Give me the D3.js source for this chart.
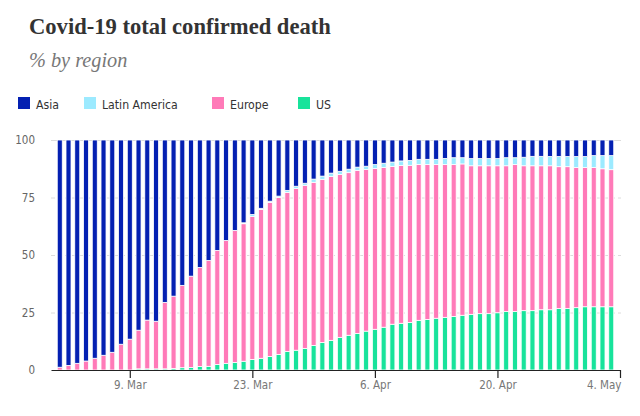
<!DOCTYPE html>
<html><head><meta charset="utf-8">
<script src="https://cdn.jsdelivr.net/npm/d3@7"></script>
<style>
html,body{margin:0;padding:0;background:#fff;}
svg{display:block;}
</style></head>
<body>
<svg id="chart" width="640" height="416"></svg>
<script>
const startDate = "2020-03-01";
const regions = ["US", "Europe", "Latin America", "Asia"];
const legendOrder = ["Asia", "Latin America", "Europe", "US"];
const colors = {"Asia": "#0420b2", "Latin America": "#9ceaff", "Europe": "#ff7ab8", "US": "#18e39b"};

const us = [0,0,0,0,0,0,0,0,0,0.5,0.5,0.5,0.5,0.6,1.0,1.1,1.5,1.6,2.4,2.9,3.3,3.8,4.6,5.1,5.9,6.8,8.1,8.6,9.4,10.7,12.0,12.9,14.2,15.1,15.9,16.9,17.7,18.6,19.9,20.3,20.7,21.6,22.0,22.5,22.9,23.3,23.8,24.2,24.5,24.5,24.9,25.4,25.4,25.8,25.8,26.2,26.2,26.7,26.7,27.1,27.5,27.5,27.5,27.5];
const europe = [1.2,2.0,2.9,3.9,5.1,6.4,7.7,11.2,13.4,16.8,21.2,20.7,28.9,31.5,35.8,39.7,43.1,46.0,49.6,53.4,57.4,59.8,62.1,64.7,67.0,68.2,69.1,70.3,70.9,70.9,70.9,71.2,70.8,70.7,70.9,70.3,69.9,69.4,68.6,68.6,68.3,67.8,67.3,66.8,66.4,66.0,65.8,64.6,64.3,64.3,63.9,63.4,63.9,63.0,63.0,62.6,62.6,61.7,61.7,60.9,60.5,60.5,60.0,59.6];
const latinAmerica = [0,0,0,0,0,0,0,0,0,0,0,0,0,0,0,0,0,0,0,0,0,0.4,0.9,0.5,0.5,0.6,0.9,1.0,0.9,1.4,1.4,1.5,1.4,1.5,1.4,1.4,1.7,1.9,1.9,2.0,2.1,2.2,2.3,2.3,2.7,3.0,2.7,3.1,3.1,3.1,3.1,3.5,3.0,3.7,4.1,4.1,4.0,4.4,4.4,4.8,4.8,5.2,5.7,6.1];
const asia = [98.8,98.0,97.1,96.1,94.9,93.6,92.3,88.8,86.6,82.7,78.3,78.8,70.6,67.9,63.2,59.2,55.4,52.4,48.0,43.7,39.3,36.0,32.4,29.7,26.6,24.4,21.9,20.1,18.8,17.0,15.7,14.4,13.6,12.7,11.8,11.4,10.7,10.1,9.6,9.1,8.9,8.4,8.4,8.4,8.0,7.7,7.7,8.1,8.1,8.1,8.1,7.7,7.7,7.5,7.1,7.1,7.2,7.2,7.2,7.2,7.2,6.8,6.8,6.8];
const yTicks = [0, 25, 50, 75, 100];
const xTickDates = ["2020-03-09", "2020-03-23", "2020-04-06", "2020-04-20", "2020-05-04"];
const xTickLabels = ["9. Mar", "23. Mar", "6. Apr", "20. Apr", "4. May"];

const parse = d3.utcParse("%Y-%m-%d");
const day0 = parse(startDate);
const rows = us.map((v, i) => ({
  date: d3.utcDay.offset(day0, i),
  "US": v, "Europe": europe[i], "Latin America": latinAmerica[i], "Asia": asia[i]
}));

const svg = d3.select("#chart");
const condensed = "'Liberation Sans Narrow', 'DejaVu Sans Condensed', 'Roboto', sans-serif";

// Title / subtitle
svg.append("text").attr("x", 29).attr("y", 34)
  .attr("font-family", "'Liberation Serif', 'DejaVu Serif', serif")
  .attr("font-weight", "bold").attr("font-size", 22.6).attr("fill", "#333")
  .text("Covid-19 total confirmed death");
svg.append("text").attr("x", 29).attr("y", 67)
  .attr("font-family", "'Liberation Serif', 'DejaVu Serif', serif")
  .attr("font-style", "italic").attr("font-size", 20.3).attr("fill", "#777")
  .text("% by region");

// Legend
const legendX = [18, 84, 212, 298];
const lg = svg.append("g");
legendOrder.forEach((k, i) => {
  lg.append("rect").attr("x", legendX[i]).attr("y", 97).attr("width", 12).attr("height", 12).attr("fill", colors[k]);
  lg.append("text").attr("x", legendX[i] + 18).attr("y", 108.5)
    .attr("font-family", condensed).attr("font-size", 12.2).attr("fill", "#333").text(k);
});

// Scales
const x = d3.scaleUtc()
  .domain([d3.utcDay.offset(day0, -1), parse("2020-05-04")])
  .range([51, 620]);
const y = d3.scaleLinear().domain([0, 100]).range([370, 140]);

// Grid
svg.append("g").selectAll("line").data(yTicks.filter(t => t > 0)).join("line")
  .attr("x1", 51).attr("x2", 621)
  .attr("y1", d => y(d) + 0.5).attr("y2", d => y(d) + 0.5)
  .attr("stroke", "#dcdcdc").attr("stroke-width", 1)
  .attr("stroke-dasharray", d => d === 100 ? null : "4,3");

// Y labels
svg.append("g").selectAll("text").data(yTicks).join("text")
  .attr("x", 35).attr("y", d => y(d)).attr("dy", "0.35em")
  .attr("text-anchor", "end").attr("font-family", condensed)
  .attr("font-size", 11.5).attr("fill", "#666").text(d => d);

// Bars
const stack = d3.stack().keys(regions);
const series = stack(rows);
const bw = 5;
svg.append("g").selectAll("g").data(series).join("g")
  .attr("fill", d => colors[d.key])
  .selectAll("rect").data(d => d).join("rect")
  .attr("x", d => x(d.data.date) - bw / 2)
  .attr("width", bw)
  .attr("y", d => y(d[1]))
  .attr("height", d => Math.max(0, y(d[0]) - y(d[1])))
  .attr("stroke", "#fff").attr("stroke-width", 0.8);

// X axis
const xAxis = d3.axisBottom(x)
  .tickValues(xTickDates.map(parse))
  .tickFormat((d, i) => xTickLabels[i])
  .tickSize(8).tickPadding(3).tickSizeOuter(0);
const gx = svg.append("g").attr("transform", "translate(0,370)").call(xAxis);
gx.select(".domain").attr("stroke", "#222").attr("stroke-width", 1.2);
gx.selectAll(".tick line").attr("stroke", "#222").attr("stroke-width", 1.2);
gx.selectAll(".tick text").attr("font-family", condensed).attr("font-size", 11.5).attr("fill", "#777");
gx.selectAll(".tick text").filter((d, i) => i === xTickLabels.length - 1)
  .attr("text-anchor", "end").attr("x", 1);
</script>
</body></html>
